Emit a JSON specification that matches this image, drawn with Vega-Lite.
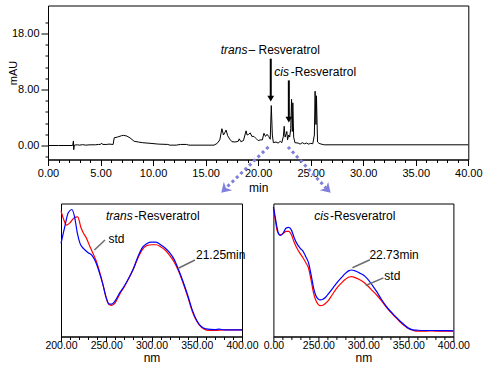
{
  "$schema": "https://vega.github.io/schema/vega-lite/v6.json",
  "padding": {"left": 6, "top": 4.5, "right": 0, "bottom": 0},
  "background": "white",
  "config": {
    "view": {"stroke": "black", "strokeWidth": 1},
    "font": "Liberation Sans",
    "axis": {"domainColor": "black", "tickColor": "black", "labelColor": "black", "titleColor": "black", "grid": false, "labelFont": "Liberation Sans", "titleFont": "Liberation Sans", "titleFontWeight": "normal", "domainWidth": 1, "tickWidth": 1}
  },
  "datasets": {
    "chrom": [
      {"t":0,"v":0},{"t":1,"v":0},{"t":2,"v":0},{"t":2.35,"v":0},{"t":2.42,"v":0.65},{"t":2.45,"v":-0.6},{"t":2.5,"v":0.05},
      {"t":2.8,"v":0.1},{"t":3.0,"v":0.05},{"t":3.3,"v":0.12},{"t":3.6,"v":0.05},{"t":4.0,"v":0.1},{"t":4.5,"v":0.1},
      {"t":4.8,"v":0.15},{"t":5.0,"v":0.15},{"t":5.1,"v":0.35},{"t":5.2,"v":0.15},{"t":5.6,"v":0.15},{"t":5.8,"v":0.2},
      {"t":6.2,"v":0.15},{"t":6.3,"v":1.1},{"t":6.6,"v":1.2},{"t":7.0,"v":1.4},{"t":7.2,"v":1.45},{"t":7.5,"v":1.35},
      {"t":7.8,"v":1.1},{"t":8.2,"v":0.6},{"t":8.6,"v":0.5},{"t":9.0,"v":0.4},{"t":9.8,"v":0.3},{"t":10.5,"v":0.2},
      {"t":11.4,"v":0.15},{"t":11.6,"v":0.05},{"t":12.2,"v":0.05},{"t":12.6,"v":0.15},{"t":13.2,"v":0.15},{"t":13.4,"v":0.05},
      {"t":15.8,"v":0.05},{"t":16.1,"v":0.3},{"t":16.35,"v":0.8},{"t":16.55,"v":2.4},{"t":16.7,"v":1.5},{"t":16.85,"v":1.9},
      {"t":16.95,"v":2.2},{"t":17.1,"v":1.4},{"t":17.3,"v":0.9},{"t":17.5,"v":0.55},{"t":17.8,"v":0.5},{"t":18.1,"v":0.6},
      {"t":18.2,"v":0.95},{"t":18.35,"v":0.55},{"t":18.6,"v":0.7},{"t":18.85,"v":2.1},{"t":18.95,"v":1.5},{"t":19.1,"v":1.6},
      {"t":19.25,"v":1.8},{"t":19.4,"v":1.3},{"t":19.6,"v":1.3},{"t":19.8,"v":1.0},{"t":20.0,"v":0.7},{"t":20.2,"v":0.8},
      {"t":20.4,"v":0.8},{"t":20.55,"v":1.75},{"t":20.7,"v":1.3},{"t":20.85,"v":1.6},{"t":21.0,"v":1.3},{"t":21.15,"v":0.9},
      {"t":21.25,"v":5.7},{"t":21.35,"v":1.5},{"t":21.45,"v":0.4},{"t":21.7,"v":0.5},{"t":21.9,"v":0.35},{"t":22.1,"v":0.6},
      {"t":22.25,"v":0.4},{"t":22.4,"v":1.3},{"t":22.48,"v":2.75},{"t":22.56,"v":1.2},{"t":22.65,"v":1.6},{"t":22.73,"v":2.0},
      {"t":22.8,"v":0.8},{"t":22.9,"v":1.5},{"t":23.0,"v":1.2},{"t":23.1,"v":2.4},{"t":23.18,"v":6.6},{"t":23.25,"v":2.0},
      {"t":23.3,"v":6.1},{"t":23.38,"v":1.2},{"t":23.5,"v":0.4},{"t":23.8,"v":0.35},{"t":24.0,"v":0.2},{"t":24.2,"v":0.4},
      {"t":24.4,"v":0.25},{"t":24.6,"v":0.35},{"t":24.8,"v":0.2},{"t":25.0,"v":0.3},{"t":25.2,"v":0.25},{"t":25.35,"v":1.5},
      {"t":25.42,"v":7.75},{"t":25.5,"v":3.0},{"t":25.55,"v":7.1},{"t":25.65,"v":0.5},{"t":25.8,"v":0.3},{"t":26.0,"v":0.2},
      {"t":26.3,"v":0.1},{"t":40,"v":0.1}
    ],
    "peakArrows": [
      {"peak": "trans", "t": 21.2, "v": 12.4, "v2": 6.9, "tip": 6.69},
      {"peak": "cis", "t": 22.92, "v": 9.3, "v2": 3.9, "tip": 3.69}
    ],
    "peakLabels": [
      {"peak": "trans", "t": 18.98, "t2": 19.08, "v": 13.6, "italic": "trans", "rest": "– Resveratrol"},
      {"peak": "cis", "t": 22.93, "t2": 23.1, "v": 10.47, "italic": "cis", "rest": "-Resveratrol"}
    ],
    "links": [
      {"panel": "trans", "t": 20.98, "v": -0.2, "t2": 16.89, "v2": -6.14},
      {"panel": "cis", "t": 22.84, "v": -0.2, "t2": 26.5, "v2": -6.14}
    ],
    "transSample": [
      {"nm":200,"a":0.70},{"nm":204,"a":0.82},{"nm":208,"a":0.93},{"nm":212,"a":0.955},{"nm":215,"a":0.90},{"nm":218,"a":0.78},
      {"nm":221,"a":0.70},{"nm":225,"a":0.66},{"nm":230,"a":0.63},{"nm":234,"a":0.612},{"nm":238,"a":0.565},{"nm":242,"a":0.49},
      {"nm":246,"a":0.40},{"nm":250,"a":0.29},{"nm":253,"a":0.245},{"nm":256,"a":0.243},{"nm":260,"a":0.27},{"nm":265,"a":0.33},
      {"nm":270,"a":0.38},{"nm":275,"a":0.44},{"nm":280,"a":0.51},{"nm":285,"a":0.60},{"nm":290,"a":0.67},{"nm":295,"a":0.70},
      {"nm":300,"a":0.71},{"nm":305,"a":0.71},{"nm":310,"a":0.69},{"nm":315,"a":0.665},{"nm":320,"a":0.63},{"nm":325,"a":0.58},
      {"nm":330,"a":0.50},{"nm":335,"a":0.41},{"nm":340,"a":0.31},{"nm":345,"a":0.20},{"nm":350,"a":0.12},{"nm":355,"a":0.075},
      {"nm":360,"a":0.058},{"nm":370,"a":0.052},{"nm":375,"a":0.055},{"nm":380,"a":0.05},{"nm":400,"a":0.05}
    ],
    "transStd": [
      {"nm":200,"a":0.945},{"nm":203,"a":0.88},{"nm":206,"a":0.837},{"nm":210,"a":0.855},{"nm":214,"a":0.89},{"nm":218.5,"a":0.90},
      {"nm":222,"a":0.82},{"nm":225,"a":0.775},{"nm":228,"a":0.74},{"nm":232,"a":0.675},{"nm":235,"a":0.63},{"nm":238.5,"a":0.575},
      {"nm":242,"a":0.50},{"nm":246,"a":0.40},{"nm":250,"a":0.29},{"nm":253,"a":0.24},{"nm":256,"a":0.233},{"nm":260,"a":0.255},
      {"nm":265,"a":0.32},{"nm":270,"a":0.375},{"nm":275,"a":0.44},{"nm":280,"a":0.51},{"nm":285,"a":0.59},{"nm":290,"a":0.655},
      {"nm":295,"a":0.685},{"nm":300,"a":0.69},{"nm":305,"a":0.69},{"nm":310,"a":0.675},{"nm":315,"a":0.65},{"nm":320,"a":0.61},
      {"nm":325,"a":0.56},{"nm":330,"a":0.49},{"nm":335,"a":0.40},{"nm":340,"a":0.30},{"nm":345,"a":0.19},{"nm":350,"a":0.115},
      {"nm":355,"a":0.07},{"nm":360,"a":0.05},{"nm":365,"a":0.045},{"nm":370,"a":0.045},{"nm":375,"a":0.048},{"nm":380,"a":0.05},{"nm":400,"a":0.05}
    ],
    "cisSample": [
      {"nm":200,"a":0.975},{"nm":202,"a":0.90},{"nm":204,"a":0.82},{"nm":206,"a":0.77},{"nm":208,"a":0.76},{"nm":211,"a":0.78},
      {"nm":214,"a":0.815},{"nm":217,"a":0.82},{"nm":220,"a":0.80},{"nm":223,"a":0.745},{"nm":226,"a":0.70},{"nm":229.6,"a":0.665},
      {"nm":233,"a":0.64},{"nm":236,"a":0.60},{"nm":239,"a":0.555},{"nm":242,"a":0.46},{"nm":244.5,"a":0.37},{"nm":247,"a":0.31},
      {"nm":250,"a":0.28},{"nm":252,"a":0.275},{"nm":255,"a":0.28},{"nm":258,"a":0.295},{"nm":261,"a":0.32},{"nm":265,"a":0.355},
      {"nm":270,"a":0.40},{"nm":276,"a":0.446},{"nm":280,"a":0.475},{"nm":284,"a":0.495},{"nm":287,"a":0.50},{"nm":290,"a":0.495},
      {"nm":295,"a":0.48},{"nm":300,"a":0.462},{"nm":305,"a":0.43},{"nm":310,"a":0.385},{"nm":315,"a":0.335},{"nm":320,"a":0.28},
      {"nm":325,"a":0.23},{"nm":330,"a":0.19},{"nm":335,"a":0.155},{"nm":340,"a":0.12},{"nm":345,"a":0.09},{"nm":350,"a":0.063},
      {"nm":355,"a":0.05},{"nm":360,"a":0.047},{"nm":370,"a":0.045},{"nm":380,"a":0.045},{"nm":390,"a":0.044},{"nm":400,"a":0.043}
    ],
    "cisStd": [
      {"nm":200,"a":0.96},{"nm":202,"a":0.88},{"nm":204,"a":0.80},{"nm":206,"a":0.77},{"nm":208,"a":0.765},{"nm":211,"a":0.775},
      {"nm":214,"a":0.79},{"nm":217,"a":0.79},{"nm":220,"a":0.765},{"nm":223,"a":0.71},{"nm":226,"a":0.665},{"nm":229.6,"a":0.625},
      {"nm":233,"a":0.59},{"nm":236,"a":0.555},{"nm":239,"a":0.515},{"nm":242,"a":0.42},{"nm":244.5,"a":0.33},{"nm":247,"a":0.275},
      {"nm":250,"a":0.24},{"nm":252,"a":0.232},{"nm":255,"a":0.235},{"nm":258,"a":0.25},{"nm":261,"a":0.27},{"nm":265,"a":0.31},
      {"nm":270,"a":0.36},{"nm":276,"a":0.405},{"nm":280,"a":0.43},{"nm":284,"a":0.447},{"nm":287,"a":0.45},{"nm":290,"a":0.445},
      {"nm":295,"a":0.43},{"nm":300,"a":0.41},{"nm":305,"a":0.38},{"nm":310,"a":0.345},{"nm":315,"a":0.31},{"nm":320,"a":0.27},
      {"nm":325,"a":0.225},{"nm":330,"a":0.185},{"nm":335,"a":0.15},{"nm":340,"a":0.115},{"nm":345,"a":0.085},{"nm":350,"a":0.06},
      {"nm":355,"a":0.047},{"nm":360,"a":0.04},{"nm":370,"a":0.04},{"nm":375,"a":0.043},{"nm":380,"a":0.04},{"nm":390,"a":0.041},{"nm":400,"a":0.04}
    ],
    "transNotes": [
      {"kind": "title", "nm": 279.2, "nm2": 280.9, "a": 0.905, "italic": "trans", "rest": "-Resveratrol"}
    ],
    "transTags": [
      {"tag": "std", "nm": 252.4, "a": 0.73, "x1": 236.9, "y1": 0.65, "x2": 248.6, "y2": 0.725},
      {"tag": "21.25min", "nm": 349.2, "a": 0.612, "x1": 329.7, "y1": 0.513, "x2": 348.0, "y2": 0.575}
    ],
    "cisNotes": [
      {"kind": "title", "nm": 261.8, "nm2": 262.9, "a": 0.904, "italic": "cis", "rest": "-Resveratrol"}
    ],
    "cisTags": [
      {"tag": "22.73min", "nm": 306.7, "a": 0.61, "x1": 287.8, "y1": 0.517, "x2": 307.3, "y2": 0.577},
      {"tag": "std", "nm": 323.3, "a": 0.458, "x1": 302.6, "y1": 0.383, "x2": 322.2, "y2": 0.441}
    ]
  },
  "bounds": "flush",
  "spacing": 44,
  "vconcat": [
    {
      "width": 420.3,
      "height": 154,
      "resolve": {"axis": {"x": "independent", "y": "independent"}},
      "layer": [
        {
          "data": {"name": "chrom"},
          "mark": {"type": "line", "color": "black", "strokeWidth": 1},
          "encoding": {
            "x": {"field": "t", "type": "quantitative", "title": "min",
              "scale": {"domain": [0, 40], "nice": false, "zero": false},
              "axis": {"orient": "bottom", "values": [0,5,10,15,20,25,30,35,40], "format": ".2f",
                "tickSize": 6, "labelPadding": 2, "labelFlush": false, "labelOverlap": false, "labelFontSize": 11,
                "titleFontSize": 12, "titleY": 28, "titleBaseline": "middle"}},
            "y": {"field": "v", "type": "quantitative", "title": "mAU",
              "scale": {"domain": [-2, 20], "nice": false, "zero": false},
              "axis": {"orient": "left", "values": [0, 8, 16],
                "labelExpr": "datum.value === 16 ? '18.00' : format(datum.value, '.2f')",
                "tickSize": 7, "labelPadding": 2, "labelFlush": false, "labelOverlap": false, "labelFontSize": 11,
                "titleFontSize": 11, "titleX": -35, "titleY": 67, "titleBaseline": "middle", "titleAlign": "center", "titleAngle": -90}}
          }
        },
        {
          "data": {"name": "peakArrows"},
          "mark": {"type": "rule", "color": "black", "strokeWidth": 2},
          "encoding": {
            "x": {"field": "t", "type": "quantitative", "scale": {"domain": [0, 40], "nice": false, "zero": false},
              "axis": {"orient": "bottom", "values": [1,2,3,4,6,7,8,9,11,12,13,14,16,17,18,19,21,22,23,24,26,27,28,29,31,32,33,34,36,37,38,39],
                "labels": false, "domain": false, "tickSize": 3, "title": null}},
            "y": {"field": "v", "type": "quantitative", "scale": {"domain": [-2, 20], "nice": false, "zero": false},
              "axis": {"orient": "left", "values": [-1.6,1.6,3.2,4.8,6.4,9.6,11.2,12.8,14.4,17.6],
                "labels": false, "domain": false, "tickSize": 3, "title": null}},
            "y2": {"field": "v2"}
          }
        },
        {
          "data": {"name": "peakArrows"},
          "mark": {"type": "point", "shape": "triangle-down", "filled": true, "color": "black", "opacity": 1, "size": 45},
          "encoding": {
            "x": {"field": "t", "type": "quantitative", "axis": null, "scale": {"domain": [0, 40], "nice": false, "zero": false}},
            "y": {"field": "tip", "type": "quantitative", "axis": null, "scale": {"domain": [-2, 20], "nice": false, "zero": false}}
          }
        },
        {
          "data": {"name": "peakLabels"},
          "mark": {"type": "text", "fontStyle": "italic", "fontSize": 12, "align": "right", "baseline": "middle", "color": "black", "font": "Liberation Sans"},
          "encoding": {
            "x": {"field": "t", "type": "quantitative", "axis": null, "scale": {"domain": [0, 40], "nice": false, "zero": false}},
            "y": {"field": "v", "type": "quantitative", "axis": null, "scale": {"domain": [-2, 20], "nice": false, "zero": false}},
            "text": {"field": "italic"}
          }
        },
        {
          "data": {"name": "peakLabels"},
          "mark": {"type": "text", "fontSize": 12, "align": "left", "baseline": "middle", "color": "black", "font": "Liberation Sans"},
          "encoding": {
            "x": {"field": "t2", "type": "quantitative", "axis": null, "scale": {"domain": [0, 40], "nice": false, "zero": false}},
            "y": {"field": "v", "type": "quantitative", "axis": null, "scale": {"domain": [-2, 20], "nice": false, "zero": false}},
            "text": {"field": "rest"}
          }
        },
        {
          "data": {"name": "links"},
          "mark": {"type": "rule", "color": "#7f7fdc", "strokeWidth": 3, "strokeDash": [3, 3], "clip": false},
          "encoding": {
            "x": {"field": "t", "type": "quantitative", "axis": null, "scale": {"domain": [0, 40], "nice": false, "zero": false}},
            "y": {"field": "v", "type": "quantitative", "axis": null, "scale": {"domain": [-2, 20], "nice": false, "zero": false}},
            "x2": {"field": "t2"},
            "y2": {"field": "v2"}
          }
        },
        {
          "data": {"name": "links"},
          "transform": [{"filter": "datum.panel === 'trans'"}],
          "mark": {"type": "point", "shape": "M0,1L-1,-0.6L0,-0.1L1,-0.6Z", "filled": true, "color": "#7f7fdc", "opacity": 1, "size": 140, "angle": 45, "clip": false},
          "encoding": {
            "x": {"field": "t2", "type": "quantitative", "axis": null, "scale": {"domain": [0, 40], "nice": false, "zero": false}},
            "y": {"field": "v2", "type": "quantitative", "axis": null, "scale": {"domain": [-2, 20], "nice": false, "zero": false}}
          }
        },
        {
          "data": {"name": "links"},
          "transform": [{"filter": "datum.panel === 'cis'"}],
          "mark": {"type": "point", "shape": "M0,1L-1,-0.6L0,-0.1L1,-0.6Z", "filled": true, "color": "#7f7fdc", "opacity": 1, "size": 140, "angle": -45, "clip": false},
          "encoding": {
            "x": {"field": "t2", "type": "quantitative", "axis": null, "scale": {"domain": [0, 40], "nice": false, "zero": false}},
            "y": {"field": "v2", "type": "quantitative", "axis": null, "scale": {"domain": [-2, 20], "nice": false, "zero": false}}
          }
        }
      ]
    },
    {
      "bounds": "flush",
      "spacing": 0,
      "hconcat": [
        {"width": 12.6, "height": 133, "data": {"values": []}, "mark": "point", "view": {"stroke": null}},
        {
          "bounds": "flush",
          "spacing": 31.4,
          "hconcat": [
            {
              "width": 181,
              "height": 133,
              "resolve": {"axis": {"x": "independent"}},
              "layer": [
                {
                  "data": {"name": "transStd"},
                  "mark": {"type": "line", "color": "#ff0000", "strokeWidth": 1.2, "interpolate": "monotone"},
                  "encoding": {
                    "x": {"field": "nm", "type": "quantitative", "title": "nm",
                      "scale": {"domain": [200, 400], "nice": false, "zero": false},
                      "axis": {"orient": "bottom", "values": [200,250,300,350,400], "format": ".2f",
                        "tickSize": 5, "labelPadding": -1, "labelFlush": false, "labelOverlap": false, "labelFontSize": 10.5,
                        "titleFontSize": 12, "titleY": 21, "titleBaseline": "middle"}},
                    "y": {"field": "a", "type": "quantitative", "axis": null, "scale": {"domain": [0, 1], "nice": false, "zero": false}}
                  }
                },
                {
                  "data": {"name": "transSample"},
                  "mark": {"type": "line", "color": "#0000ff", "strokeWidth": 1.2, "interpolate": "monotone"},
                  "encoding": {
                    "x": {"field": "nm", "type": "quantitative", "scale": {"domain": [200, 400], "nice": false, "zero": false},
                      "axis": {"orient": "bottom", "values": [210,220,230,240,260,270,280,290,310,320,330,340,360,370,380,390],
                        "labels": false, "domain": false, "tickSize": 3, "title": null}},
                    "y": {"field": "a", "type": "quantitative", "axis": null, "scale": {"domain": [0, 1], "nice": false, "zero": false}}
                  }
                },
                {
                  "data": {"name": "transTags"},
                  "mark": {"type": "rule", "color": "#6e6e6e", "strokeWidth": 1.5},
                  "encoding": {
                    "x": {"field": "x1", "type": "quantitative", "axis": null, "scale": {"domain": [200, 400], "nice": false, "zero": false}},
                    "y": {"field": "y1", "type": "quantitative", "axis": null, "scale": {"domain": [0, 1], "nice": false, "zero": false}},
                    "x2": {"field": "x2"},
                    "y2": {"field": "y2"}
                  }
                },
                {
                  "data": {"name": "transTags"},
                  "mark": {"type": "text", "fontSize": 12, "align": "left", "baseline": "middle", "color": "black", "font": "Liberation Sans"},
                  "encoding": {
                    "x": {"field": "nm", "type": "quantitative", "axis": null, "scale": {"domain": [200, 400], "nice": false, "zero": false}},
                    "y": {"field": "a", "type": "quantitative", "axis": null, "scale": {"domain": [0, 1], "nice": false, "zero": false}},
                    "text": {"field": "tag"}
                  }
                },
                {
                  "data": {"name": "transNotes"},
                  "mark": {"type": "text", "fontSize": 12, "fontStyle": "italic", "align": "right", "baseline": "middle", "color": "black", "font": "Liberation Sans"},
                  "encoding": {
                    "x": {"field": "nm", "type": "quantitative", "axis": null, "scale": {"domain": [200, 400], "nice": false, "zero": false}},
                    "y": {"field": "a", "type": "quantitative", "axis": null, "scale": {"domain": [0, 1], "nice": false, "zero": false}},
                    "text": {"field": "italic"}
                  }
                },
                {
                  "data": {"name": "transNotes"},
                  "mark": {"type": "text", "fontSize": 12, "align": "left", "baseline": "middle", "color": "black", "font": "Liberation Sans"},
                  "encoding": {
                    "x": {"field": "nm2", "type": "quantitative", "axis": null, "scale": {"domain": [200, 400], "nice": false, "zero": false}},
                    "y": {"field": "a", "type": "quantitative", "axis": null, "scale": {"domain": [0, 1], "nice": false, "zero": false}},
                    "text": {"field": "rest"}
                  }
                }
              ]
            },
            {
              "width": 180,
              "height": 133,
              "resolve": {"axis": {"x": "independent"}},
              "layer": [
                {
                  "data": {"name": "cisStd"},
                  "mark": {"type": "line", "color": "#ff0000", "strokeWidth": 1.2, "interpolate": "monotone"},
                  "encoding": {
                    "x": {"field": "nm", "type": "quantitative", "title": "nm",
                      "scale": {"domain": [200, 400], "nice": false, "zero": false},
                      "axis": {"orient": "bottom", "values": [200,250,300,350,400],
                        "labelExpr": "datum.value === 200 ? '0.00' : format(datum.value, '.2f')",
                        "tickSize": 5, "labelPadding": -1, "labelFlush": false, "labelOverlap": false, "labelFontSize": 10.5,
                        "titleFontSize": 12, "titleY": 21, "titleBaseline": "middle"}},
                    "y": {"field": "a", "type": "quantitative", "axis": null, "scale": {"domain": [0, 1], "nice": false, "zero": false}}
                  }
                },
                {
                  "data": {"name": "cisSample"},
                  "mark": {"type": "line", "color": "#0000ff", "strokeWidth": 1.2, "interpolate": "monotone"},
                  "encoding": {
                    "x": {"field": "nm", "type": "quantitative", "scale": {"domain": [200, 400], "nice": false, "zero": false},
                      "axis": {"orient": "bottom", "values": [210,220,230,240,260,270,280,290,310,320,330,340,360,370,380,390],
                        "labels": false, "domain": false, "tickSize": 3, "title": null}},
                    "y": {"field": "a", "type": "quantitative", "axis": null, "scale": {"domain": [0, 1], "nice": false, "zero": false}}
                  }
                },
                {
                  "data": {"name": "cisTags"},
                  "mark": {"type": "rule", "color": "#6e6e6e", "strokeWidth": 1.5},
                  "encoding": {
                    "x": {"field": "x1", "type": "quantitative", "axis": null, "scale": {"domain": [200, 400], "nice": false, "zero": false}},
                    "y": {"field": "y1", "type": "quantitative", "axis": null, "scale": {"domain": [0, 1], "nice": false, "zero": false}},
                    "x2": {"field": "x2"},
                    "y2": {"field": "y2"}
                  }
                },
                {
                  "data": {"name": "cisTags"},
                  "mark": {"type": "text", "fontSize": 12, "align": "left", "baseline": "middle", "color": "black", "font": "Liberation Sans"},
                  "encoding": {
                    "x": {"field": "nm", "type": "quantitative", "axis": null, "scale": {"domain": [200, 400], "nice": false, "zero": false}},
                    "y": {"field": "a", "type": "quantitative", "axis": null, "scale": {"domain": [0, 1], "nice": false, "zero": false}},
                    "text": {"field": "tag"}
                  }
                },
                {
                  "data": {"name": "cisNotes"},
                  "mark": {"type": "text", "fontSize": 12, "fontStyle": "italic", "align": "right", "baseline": "middle", "color": "black", "font": "Liberation Sans"},
                  "encoding": {
                    "x": {"field": "nm", "type": "quantitative", "axis": null, "scale": {"domain": [200, 400], "nice": false, "zero": false}},
                    "y": {"field": "a", "type": "quantitative", "axis": null, "scale": {"domain": [0, 1], "nice": false, "zero": false}},
                    "text": {"field": "italic"}
                  }
                },
                {
                  "data": {"name": "cisNotes"},
                  "mark": {"type": "text", "fontSize": 12, "align": "left", "baseline": "middle", "color": "black", "font": "Liberation Sans"},
                  "encoding": {
                    "x": {"field": "nm2", "type": "quantitative", "axis": null, "scale": {"domain": [200, 400], "nice": false, "zero": false}},
                    "y": {"field": "a", "type": "quantitative", "axis": null, "scale": {"domain": [0, 1], "nice": false, "zero": false}},
                    "text": {"field": "rest"}
                  }
                }
              ]
            }
          ]
        }
      ]
    }
  ]
}
